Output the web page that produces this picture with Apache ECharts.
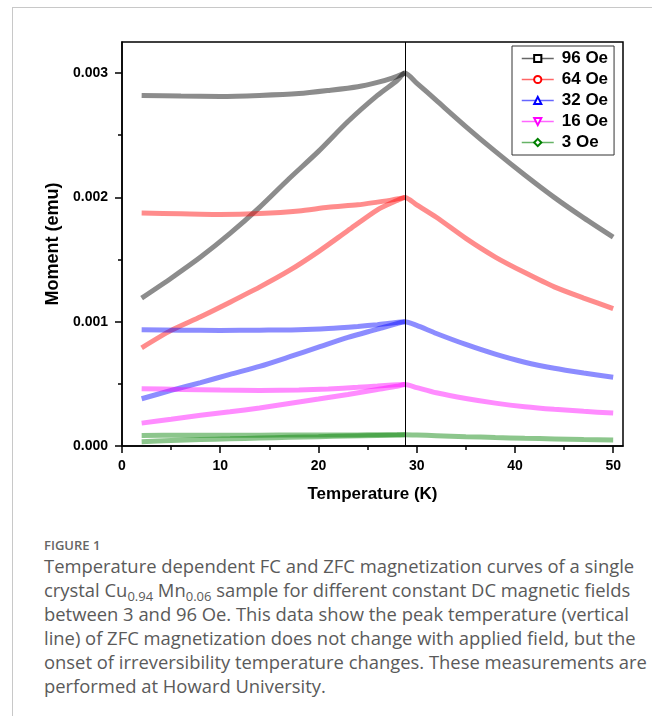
<!DOCTYPE html>
<html>
<head>
<meta charset="utf-8">
<script src="https://cdn.jsdelivr.net/npm/echarts@6/dist/echarts.min.js"></script>
<style>
  html, body { margin: 0; padding: 0; background: #fff; }
  #page { position: relative; width: 652px; height: 716px; overflow: hidden; }
  #box { position: absolute; left: 12px; top: 7px; right: -2px; bottom: -2px; border-left: 1px solid #c8c8c8; border-top: 1px solid #c8c8c8; }
  #chart { position: absolute; left: 0; top: 0; width: 652px; height: 520px; }
  #fig { position: absolute; left: 44px; top: 537px; font: 600 13px "Open Sans", sans-serif; color: #666; line-height: 16px; }
  #cap { position: absolute; left: 44px; top: 554px; font: 18.4px "Open Sans", sans-serif; color: #5a5a5a; line-height: 24px; white-space: nowrap; }
  #cap sub { font-size: 13px; line-height: 0; vertical-align: -4px; }
</style>
</head>
<body>
<div id="page">
  <div id="box"></div>
  <div id="chart"></div>
  <div id="fig">FIGURE 1</div>
  <div id="cap">Temperature dependent FC and ZFC magnetization curves of a single<br>crystal Cu<sub>0.94</sub> Mn<sub>0.06</sub> sample for different constant DC magnetic fields<br>between 3 and 96 Oe. This data show the peak temperature (vertical<br>line) of ZFC magnetization does not change with applied field, but the<br>onset of irreversibility temperature changes. These measurements are<br>performed at Howard University.</div>
</div>
<script>
// field labels, colours and markers
var fields = ['96 Oe', '64 Oe', '32 Oe', '16 Oe', '3 Oe'];
var colors = ['#000000', '#ff0000', '#0000ff', '#ff00ff', '#008000'];
var symbols = ['emptyRect', 'emptyCircle', 'emptyTriangle', 'emptyTriangle', 'emptyDiamond'];
var rotates = [0, 0, 0, 180, 0];

// temperatures (K)
var tZfc = [2, 5, 8, 11, 14, 17, 20, 23, 26, 28, 28.8];
var tDecay = [30, 32, 35, 38, 41, 44, 47, 50];
var tFc = [2, 6, 10, 14, 18, 21, 24, 26, 27.5, 28.8];
var tPeak = 28.8;

// moment (emu): ZFC warming branch, common branch above the peak, FC branch
var zfc96 = [0.00119, 0.00135, 0.00152, 0.00171, 0.00192, 0.00215, 0.00237, 0.00261, 0.00282, 0.00294, 0.00300];
var decay96 = [0.00292, 0.00278, 0.00257, 0.00237, 0.00218, 0.00200, 0.001835, 0.00168];
var fc96 = [0.00282, 0.002815, 0.002812, 0.00282, 0.002835, 0.00286, 0.00289, 0.002925, 0.00296, 0.00300];

var zfc64 = [0.00079, 0.00093, 0.00104, 0.001157, 0.001278, 0.00141, 0.001564, 0.001733, 0.00190, 0.001975, 0.00200];
var decay64 = [0.00194, 0.00184, 0.00167, 0.00152, 0.001395, 0.00128, 0.00119, 0.001105];
var fc64 = [0.001874, 0.001868, 0.001863, 0.00187, 0.00189, 0.00192, 0.00194, 0.001962, 0.00198, 0.00200];

var zfc32 = [0.00038, 0.000447, 0.00051, 0.000576, 0.00064, 0.000716, 0.000795, 0.000874, 0.00094, 0.000985, 0.00100];
var decay32 = [0.00097, 0.000905, 0.000817, 0.000739, 0.000674, 0.000625, 0.000587, 0.000553];
var fc32 = [0.000935, 0.000932, 0.00093, 0.000932, 0.000935, 0.000945, 0.000962, 0.000976, 0.00099, 0.00100];

var zfc16 = [0.000184, 0.000215, 0.000247, 0.000275, 0.000306, 0.000342, 0.000378, 0.000415, 0.000455, 0.00048, 0.000495];
var decay16 = [0.00047, 0.000428, 0.000382, 0.000345, 0.000316, 0.000295, 0.000279, 0.000265];
var fc16 = [0.000461, 0.000455, 0.00045, 0.000447, 0.00045, 0.000458, 0.000472, 0.000482, 0.00049, 0.000495];

var zfc3 = [0.000035, 0.000045, 0.000052, 0.000058, 0.000064, 0.00007, 0.000075, 0.00008, 0.000085, 0.000088, 0.00009];
var decay3 = [0.000088, 0.000083, 0.000075, 0.000068, 0.000062, 0.000057, 0.000052, 0.000048];
var fc3 = [0.000085, 0.000086, 0.000087, 0.000087, 0.000088, 0.000088, 0.000089, 0.00009, 0.00009, 0.00009];

// axis ticks
var xMajor = [0, 10, 20, 30, 40, 50];
var xMinor = [5, 15, 25, 35, 45];
var yMajor = [0, 0.001, 0.002, 0.003];
var yMinor = [0.0005, 0.0015, 0.0025];

var zfcAll = [zfc96, zfc64, zfc32, zfc16, zfc3];
var decayAll = [decay96, decay64, decay32, decay16, decay3];
var fcAll = [fc96, fc64, fc32, fc16, fc3];

function pairs(ts, vs) {
    var out = [];
    for (var i = 0; i < ts.length; i++) out.push([ts[i], vs[i]]);
    return out;
}

var series = [];
for (var k = 0; k < fields.length; k++) {
    var common = {
        name: fields[k],
        type: 'line',
        xAxisIndex: 0,
        yAxisIndex: 0,
        smooth: 0.25,
        showSymbol: false,
        symbol: symbols[k],
        symbolRotate: rotates[k],
        symbolSize: 7,
        itemStyle: { color: colors[k], borderWidth: 1 },
        lineStyle: { color: colors[k], width: 5, opacity: 0.45 },
        silent: true
    };
    var zfc = Object.assign({}, common, {
        data: pairs(tZfc, zfcAll[k]).concat(pairs(tDecay, decayAll[k]))
    });
    if (k === 0) {
        zfc.markLine = {
            silent: true,
            symbol: 'none',
            label: { show: false },
            lineStyle: { color: '#000', width: 1, type: 'solid', opacity: 1 },
            data: [{ xAxis: tPeak }]
        };
    }
    series.push(zfc);
    series.push(Object.assign({}, common, { data: pairs(tFc, fcAll[k]) }));
}

var chart = echarts.init(document.getElementById('chart'), null, { renderer: 'canvas' });
var axisFont = { color: '#000', fontWeight: 'bold', fontSize: 14, fontFamily: 'Liberation Sans, Arial, sans-serif' };
var gridPos = { left: 122, top: 42, width: 501, height: 404 };

chart.setOption({
    animation: false,
    grid: [
        Object.assign({ show: true, borderColor: '#000', borderWidth: 1.5 }, gridPos),
        Object.assign({ show: false }, gridPos)
    ],
    legend: {
        data: fields,
        orient: 'vertical',
        left: 512,
        top: 46,
        itemWidth: 32,
        itemHeight: 9,
        itemGap: 4,
        padding: [4, 6, 4, 9],
        borderColor: '#333',
        borderWidth: 1,
        backgroundColor: '#fff',
        lineStyle: { width: 1.5, opacity: 0.6 },
        textStyle: { color: '#000', fontWeight: 'bold', fontSize: 17, lineHeight: 16, fontFamily: 'Liberation Sans, Arial, sans-serif', padding: [0, 0, 0, 3] }
    },
    xAxis: [
        {
            type: 'value', gridIndex: 0, min: 0, max: 51, interval: 10,
            name: 'Temperature (K)', nameLocation: 'middle', nameGap: 40,
            nameTextStyle: { color: '#000', fontWeight: 'bold', fontSize: 17, fontFamily: 'Liberation Sans, Arial, sans-serif' },
            axisLine: { lineStyle: { color: '#000', width: 1.5 } },
            axisTick: { length: 7, lineStyle: { color: '#000', width: 1.5 }, customValues: xMajor },
            axisLabel: Object.assign({ margin: 13, customValues: xMajor }, axisFont),
            splitLine: { show: false }
        },
        {
            type: 'value', gridIndex: 1, min: 0, max: 51, position: 'bottom',
            axisLine: { show: false },
            axisTick: { length: 4, lineStyle: { color: '#000', width: 1.5 }, customValues: xMinor },
            axisLabel: { show: false },
            splitLine: { show: false }
        }
    ],
    yAxis: [
        {
            type: 'value', gridIndex: 0, min: 0, max: 0.00325, interval: 0.001,
            name: 'Moment (emu)', nameLocation: 'middle', nameGap: 58,
            nameTextStyle: { color: '#000', fontWeight: 'bold', fontSize: 18, fontFamily: 'Liberation Sans, Arial, sans-serif' },
            axisLine: { lineStyle: { color: '#000', width: 1.5 } },
            axisTick: { length: 7, lineStyle: { color: '#000', width: 1.5 }, customValues: yMajor },
            axisLabel: Object.assign({
                margin: 14, customValues: yMajor,
                formatter: function (v) { return v.toFixed(3); }
            }, axisFont),
            splitLine: { show: false }
        },
        {
            type: 'value', gridIndex: 1, min: 0, max: 0.00325, position: 'left',
            axisLine: { show: false },
            axisTick: { length: 4, lineStyle: { color: '#000', width: 1.5 }, customValues: yMinor },
            axisLabel: { show: false },
            splitLine: { show: false }
        }
    ],
    series: series
});
</script>
</body>
</html>
